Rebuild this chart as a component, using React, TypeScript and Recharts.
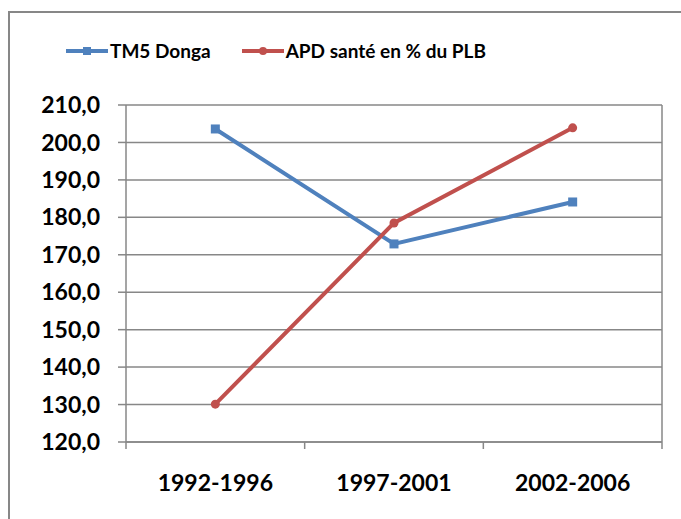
import React from 'react';
import { LineChart, Line, XAxis, YAxis, CartesianGrid } from 'recharts';

const periods = ['1992-1996', '1997-2001', '2002-2006'];
const tm5Donga = [203.6, 172.9, 184.1];
const apdSante = [130.1, 178.5, 203.9];
const yTicks = [120, 130, 140, 150, 160, 170, 180, 190, 200, 210];
const seriesNames = ['TM5 Donga', 'APD santé en % du PLB'];

const BLUE = '#4F81BD';
const RED = '#C0504D';
const GRID = '#878787';
const FONT = 'Lato, Calibri, "Open Sans", sans-serif';

const data = periods.map((p, i) => ({ period: p, tm5: tm5Donga[i], apd: apdSante[i] }));

const fmt = (v: number) => v.toFixed(1).replace('.', ',');

const XTick = (props: any) => {
  const { x, y, payload, index, visibleTicksCount, width } = props;
  const bw = Number(width) / visibleTicksCount;
  const left = x - bw / 2;
  const right = x + bw / 2;
  return (
    <g>
      <line x1={left} x2={left} y1={y} y2={y + 7} stroke={GRID} strokeWidth={1.5} />
      {index === visibleTicksCount - 1 && (
        <line x1={right} x2={right} y1={y} y2={y + 7} stroke={GRID} strokeWidth={1.5} />
      )}
      <text x={x} y={y + 49} textAnchor="middle" fill="#000" fontFamily={FONT} fontWeight={700} fontSize={23}>
        {payload.value}
      </text>
    </g>
  );
};

const SquareDot = (props: any) => {
  const { cx, cy, index } = props;
  return <rect key={`sq-${index}`} x={cx - 4.5} y={cy - 4.5} width={9} height={9} fill={BLUE} />;
};

const CircleDot = (props: any) => {
  const { cx, cy, index } = props;
  return <circle key={`ci-${index}`} cx={cx} cy={cy} r={4.5} fill={RED} />;
};

const LegendIcon = ({ color, square }: { color: string; square: boolean }) => (
  <svg width={42} height={12} style={{ display: 'block' }}>
    <line x1={0} x2={42} y1={6} y2={6} stroke={color} strokeWidth={4} />
    {square ? <rect x={17} y={2} width={8} height={8} fill={color} /> : <circle cx={21} cy={6} r={4} fill={color} />}
  </svg>
);

export default function App() {
  return (
    <div style={{ position: 'absolute', left: 0, top: 0, width: 681, height: 519, overflow: 'hidden', background: '#fff' }}>
      <div
        style={{
          position: 'absolute',
          left: 8,
          top: 11,
          width: 720,
          height: 560,
          border: `2px solid ${GRID}`,
          boxSizing: 'border-box',
        }}
      />
      <div
        style={{
          position: 'absolute',
          left: 66,
          top: 39,
          display: 'flex',
          alignItems: 'center',
          fontFamily: FONT,
          fontWeight: 700,
          fontSize: 19,
          color: '#000',
          whiteSpace: 'nowrap',
        }}
      >
        <LegendIcon color={BLUE} square />
        <span style={{ marginLeft: 2 }}>{seriesNames[0]}</span>
        <span style={{ width: 31 }} />
        <LegendIcon color={RED} square={false} />
        <span style={{ marginLeft: 2 }}>{seriesNames[1]}</span>
      </div>
      <div style={{ position: 'absolute', left: 0, top: 0 }}>
        <LineChart width={681} height={519} data={data} margin={{ top: 105, right: 0, bottom: 0, left: 0 }}>
          <CartesianGrid horizontal vertical={false} stroke={GRID} strokeWidth={1.5} />
          <XAxis
            dataKey="period"
            scale="band"
            height={77}
            tickSize={0}
            tickMargin={0}
            axisLine={{ stroke: GRID, strokeWidth: 1.5 }}
            tickLine={false}
            tick={<XTick />}
            interval={0}
          />
          <YAxis
            domain={[120, 210]}
            ticks={yTicks}
            width={126}
            tickSize={8}
            tickMargin={18}
            tickFormatter={fmt}
            axisLine={{ stroke: GRID, strokeWidth: 1.5 }}
            tickLine={{ stroke: GRID, strokeWidth: 1.5 }}
            tick={{ fill: '#000', fontFamily: FONT, fontWeight: 700, fontSize: 23 }}
            interval={0}
          />
          <YAxis
            yAxisId="right"
            orientation="right"
            domain={[120, 210]}
            width={19}
            tick={false}
            tickLine={false}
            axisLine={{ stroke: GRID, strokeWidth: 1.5 }}
          />
          <Line
            dataKey="tm5"
            name={seriesNames[0]}
            stroke={BLUE}
            strokeWidth={4}
            dot={<SquareDot />}
            activeDot={false}
            isAnimationActive={false}
          />
          <Line
            dataKey="apd"
            name={seriesNames[1]}
            stroke={RED}
            strokeWidth={4}
            dot={<CircleDot />}
            activeDot={false}
            isAnimationActive={false}
          />
        </LineChart>
      </div>
    </div>
  );
}
